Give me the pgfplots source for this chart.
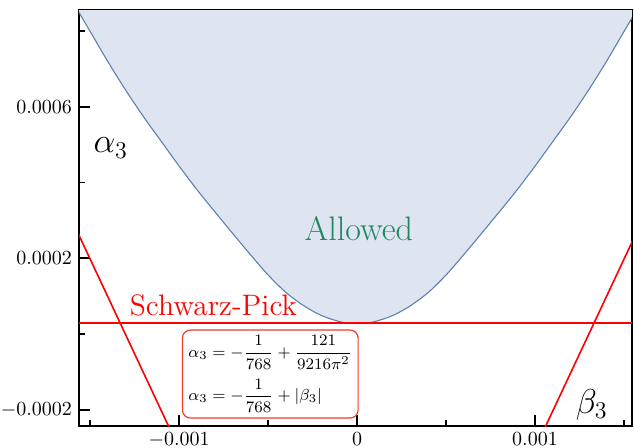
\documentclass[border=0pt]{standalone}
\usepackage{pgfplots}
\pgfplotsset{compat=1.18}
\definecolor{curveblue}{RGB}{94,129,181}
\definecolor{fillblue}{RGB}{222,228,240}
\definecolor{allowgreen}{RGB}{30,135,95}
\definecolor{boxred}{RGB}{240,60,40}
\begin{document}
\begin{tikzpicture}
\useasboundingbox (-39.5pt,-10.5pt) rectangle (277.5pt,213pt);
\begin{axis}[
  scale only axis,
  width=276.5pt, height=208pt,
  xmin=-0.001563, xmax=0.001545,
  ymin=-0.000242, ymax=0.000855,
  scaled ticks=false,
  xtick={-0.001,0,0.001},
  xticklabels={$-0.001$,$0$,$0.001$},
  minor xtick={-0.0015,-0.0005,0.0005,0.0015},
  ytick={-0.0002,0.0002,0.0006},
  yticklabels={$-0.0002$,$0.0002$,$0.0006$},
  minor ytick={0,0.0004,0.0008},
  tick align=inside,
  xtick pos=lower, ytick pos=left,
  major tick length=5.5pt, minor tick length=3pt,
  tick style={line width=0.9pt, black},
  axis line style={line width=0.9pt, black},
  clip=true,
]
\addplot[draw=none, fill=fillblue] coordinates {
(-0.0016,0.0008782) (-0.0015,0.0007982) (-0.0014,0.0007182) (-0.0013,0.0006432)
(-0.0012,0.0005732) (-0.0011,0.0005082) (-0.0010,0.0004432) (-0.0009,0.0003812)
(-0.0008,0.0003232) (-0.0007,0.0002662) (-0.0006,0.0002102) (-0.0005,0.0001562)
(-0.0004,0.0001102) (-0.0003,0.0000752) (-0.0002,0.0000492) (-0.0001,0.0000334)
(-0.00005,0.0000295) (0,0.0000282) (0.00005,0.0000295)
(0.0001,0.0000334) (0.0002,0.0000492) (0.0003,0.0000752) (0.0004,0.0001102)
(0.0005,0.0001562) (0.0006,0.0002102) (0.0007,0.0002662) (0.0008,0.0003232)
(0.0009,0.0003812) (0.0010,0.0004432) (0.0011,0.0005082) (0.0012,0.0005732)
(0.0013,0.0006432) (0.0014,0.0007182) (0.0015,0.0007982) (0.0016,0.0008782)
(0.0016,0.001) (-0.0016,0.001)
} --cycle;
\addplot[curveblue, line width=0.55pt, smooth] coordinates {
(-0.0016,0.0008782) (-0.0015,0.0007982) (-0.0014,0.0007182) (-0.0013,0.0006432)
(-0.0012,0.0005732) (-0.0011,0.0005082) (-0.0010,0.0004432) (-0.0009,0.0003812)
(-0.0008,0.0003232) (-0.0007,0.0002662) (-0.0006,0.0002102) (-0.0005,0.0001562)
(-0.0004,0.0001102) (-0.0003,0.0000752) (-0.0002,0.0000492) (-0.0001,0.0000334)
(-0.00005,0.0000295) (0,0.0000282) (0.00005,0.0000295)
(0.0001,0.0000334) (0.0002,0.0000492) (0.0003,0.0000752) (0.0004,0.0001102)
(0.0005,0.0001562) (0.0006,0.0002102) (0.0007,0.0002662) (0.0008,0.0003232)
(0.0009,0.0003812) (0.0010,0.0004432) (0.0011,0.0005082) (0.0012,0.0005732)
(0.0013,0.0006432) (0.0014,0.0007182) (0.0015,0.0007982) (0.0016,0.0008782)
};
% Schwarz-Pick horizontal line
\addplot[color=red, line width=0.8pt] coordinates {(-0.0016,0.000029) (0.0016,0.000029)};
% alpha3 = -1/768 + |beta3|
\addplot[color=red, line width=0.8pt] coordinates {(-0.0016,0.0002979) (-0.0010,-0.0003021)};
\addplot[color=red, line width=0.8pt] coordinates {(0.0010,-0.0003021) (0.0016,0.0002979)};
\node[font=\fontsize{17}{19}\selectfont, text=allowgreen] at (axis cs:0.00001,0.000278) {Allowed};
\node[font=\fontsize{14.8}{16}\selectfont, text=red] at (axis cs:-0.000808,0.000076) {Schwarz-Pick};
\node[font=\fontsize{17}{19}\selectfont] at (axis cs:-0.001384,0.000491) {$\alpha_3$};
\node[font=\fontsize{17}{19}\selectfont] at (axis cs:0.001319,-0.000187) {$\beta_3$};
\node[draw=boxred, line width=0.6pt, rounded corners=4pt, fill=white,
      minimum width=87.5pt, minimum height=44pt, inner xsep=3pt, inner ysep=1.5pt,
      font=\fontsize{8.5}{10}\selectfont, align=left]
  at (axis cs:-0.000488,-0.000105)
  {$\displaystyle \alpha_3=-\frac{1}{768}+\frac{121}{9216\pi^2}$\\[4pt]
   $\displaystyle \alpha_3=-\frac{1}{768}+|\beta_3|$};
\end{axis}
\end{tikzpicture}
\end{document}
